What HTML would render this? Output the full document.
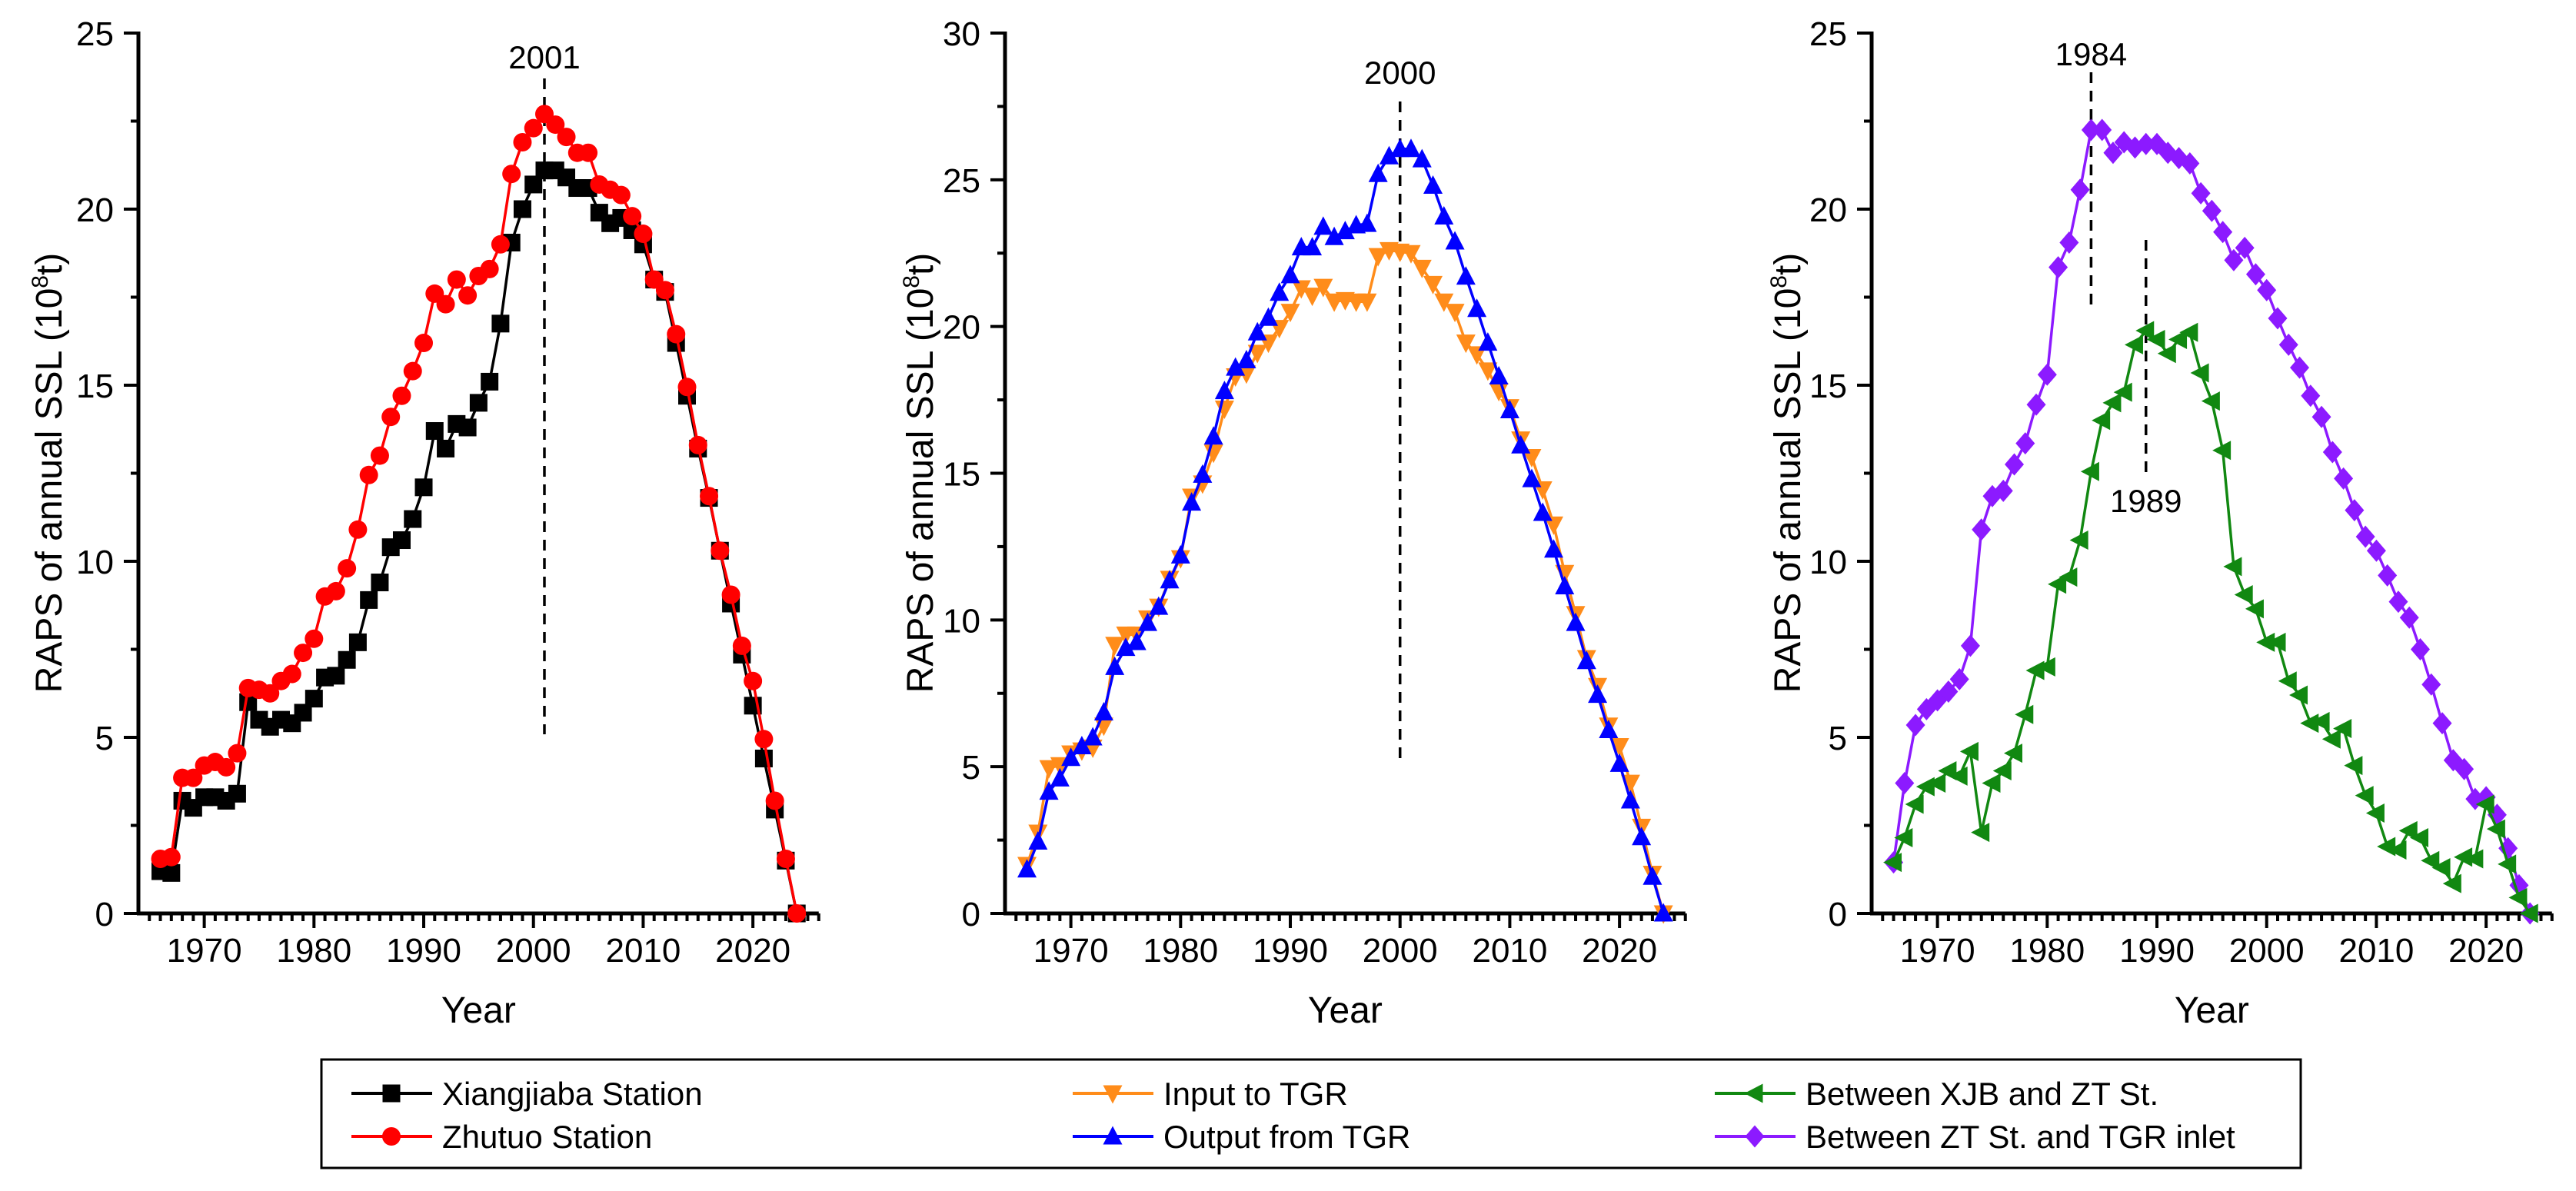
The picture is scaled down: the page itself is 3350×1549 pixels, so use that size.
<!DOCTYPE html>
<html><head><meta charset="utf-8">
<style>
html,body{margin:0;padding:0;background:#fff;}
svg{display:block;font-family:"Liberation Sans",Arial,sans-serif;}
</style></head>
<body>
<svg id="chart" width="3350" height="1549" viewBox="0 0 3350 1549" xmlns="http://www.w3.org/2000/svg">
<rect width="3350" height="1549" fill="#fff"/>
<g id="plots"></g>
<g id="legend">
  <rect x="418" y="1378" width="2574" height="141" fill="none" stroke="#000" stroke-width="3"/>
</g>
</svg>
<script>
const years = [];
for (let y = 1966; y <= 2024; y++) years.push(y);
const xiangjiaba = [1.2,1.15,3.2,3.0,3.3,3.3,3.2,3.4,6.0,5.5,5.3,5.5,5.4,5.7,6.1,6.7,6.75,7.2,7.7,8.9,9.4,10.4,10.6,11.2,12.1,13.7,13.2,13.9,13.8,14.5,15.1,16.75,19.05,20.0,20.7,21.1,21.1,20.9,20.6,20.6,19.9,19.6,19.75,19.4,19.0,18.0,17.65,16.2,14.7,13.2,11.8,10.3,8.8,7.35,5.9,4.4,2.95,1.5,0];
const zhutuo = [1.55,1.6,3.85,3.85,4.2,4.3,4.15,4.55,6.4,6.35,6.25,6.6,6.8,7.4,7.8,9.0,9.15,9.8,10.9,12.45,13.0,14.1,14.7,15.4,16.2,17.6,17.3,18.0,17.55,18.1,18.3,19.0,21.0,21.9,22.3,22.7,22.4,22.05,21.6,21.6,20.7,20.55,20.4,19.8,19.3,18.0,17.7,16.45,14.95,13.3,11.85,10.3,9.05,7.6,6.6,4.95,3.2,1.55,0];
const inputTGR = [1.65,2.75,4.95,5.05,5.45,5.55,5.65,6.4,9.15,9.5,9.5,10.05,10.45,11.4,12.1,14.2,14.65,15.7,17.2,18.3,18.4,19.1,19.45,19.95,20.5,21.3,21.05,21.35,20.85,20.9,20.85,20.85,22.4,22.6,22.55,22.5,22.0,21.45,20.85,20.5,19.45,19.05,18.5,17.8,17.25,16.15,15.55,14.45,13.25,11.6,10.2,8.7,7.75,6.4,5.7,4.45,2.95,1.35,0];
const outputTGR = [1.5,2.45,4.15,4.6,5.3,5.7,6.0,6.85,8.4,9.05,9.25,9.9,10.45,11.35,12.2,14.0,14.95,16.25,17.8,18.6,18.85,19.8,20.3,21.15,21.75,22.7,22.7,23.4,23.05,23.25,23.45,23.5,25.2,25.8,26.05,26.05,25.7,24.8,23.75,22.9,21.7,20.6,19.45,18.3,17.15,15.95,14.8,13.65,12.4,11.15,9.9,8.6,7.45,6.25,5.1,3.85,2.6,1.25,0];
const xjbZt = [1.45,2.15,3.1,3.6,3.7,4.05,3.9,4.6,2.3,3.7,4.05,4.55,5.65,6.9,7.0,9.35,9.55,10.6,12.55,14.0,14.5,14.8,16.15,16.55,16.3,15.9,16.3,16.5,15.35,14.55,13.15,9.85,9.05,8.65,7.7,7.7,6.6,6.2,5.4,5.45,4.95,5.25,4.2,3.35,2.85,1.9,1.8,2.35,2.15,1.5,1.3,0.85,1.6,1.55,3.1,2.4,1.4,0.45,0];
const ztTgr = [1.45,3.7,5.35,5.8,6.05,6.3,6.65,7.6,10.9,11.85,12.0,12.75,13.35,14.45,15.3,18.35,19.05,20.55,22.25,22.25,21.6,21.9,21.75,21.85,21.85,21.6,21.45,21.3,20.45,19.95,19.35,18.55,18.9,18.15,17.7,16.9,16.15,15.5,14.7,14.1,13.1,12.35,11.45,10.7,10.3,9.6,8.85,8.4,7.5,6.5,5.4,4.35,4.1,3.25,3.3,2.8,1.85,0.8,0];
const xTicks = [1970,1980,1990,2000,2010,2020];
const yTicks1 = [0,5,10,15,20,25];
const yTicks2 = [0,5,10,15,20,25,30];
const yTicks3 = [0,5,10,15,20,25];

const NS = "http://www.w3.org/2000/svg";
function el(tag, attrs, parent, txt){
  const e = document.createElementNS(NS, tag);
  for (const k in attrs) e.setAttribute(k, attrs[k]);
  if (txt !== undefined) e.textContent = txt;
  parent.appendChild(e);
  return e;
}
function marker(g, shape, cx, cy, color){
  const s = 11.5;
  let m;
  if (shape === 'square') m = el('rect', {x:cx-s, y:cy-s, width:2*s, height:2*s, fill:color}, g);
  else if (shape === 'circle') m = el('circle', {cx:cx, cy:cy, r:s+0.5, fill:color}, g);
  else if (shape === 'up') m = el('polygon', {points:`${cx},${cy-s-2} ${cx+s+1},${cy+s-1} ${cx-s-1},${cy+s-1}`, fill:color}, g);
  else if (shape === 'down') m = el('polygon', {points:`${cx},${cy+s+2} ${cx+s+1},${cy-s+1} ${cx-s-1},${cy-s+1}`, fill:color}, g);
  else if (shape === 'left') m = el('polygon', {points:`${cx-s-2},${cy} ${cx+s-1},${cy-s-1} ${cx+s-1},${cy+s+1}`, fill:color}, g);
  else m = el('polygon', {points:`${cx},${cy-s-3} ${cx+s+1},${cy} ${cx},${cy+s+3} ${cx-s-1},${cy}`, fill:color}, g);
  return m;
}

const plots = document.getElementById('plots');
const panels = [
  {x0:180, ymax:25, yTicks:yTicks1, ylabX:63, series:[
    {name:'xiangjiaba', vals:xiangjiaba, color:'#000000', shape:'square'},
    {name:'zhutuo', vals:zhutuo, color:'#ff0000', shape:'circle'}],
   ann:[{year:2001, y1:102, y2:955, label:'2001', ly:74}]},
  {x0:1307, ymax:30, yTicks:yTicks2, ylabX:1196, series:[
    {name:'input-to-tgr', vals:inputTGR, color:'#ff8c1a', shape:'down'},
    {name:'output-from-tgr', vals:outputTGR, color:'#0000ff', shape:'up'}],
   ann:[{year:2000, y1:132, y2:987, label:'2000', ly:94}]},
  {x0:2434, ymax:25, yTicks:yTicks3, ylabX:2324, series:[
    {name:'between-zt-and-tgr-inlet', vals:ztTgr, color:'#8c1aff', shape:'diamond'},
    {name:'between-xjb-and-zt', vals:xjbZt, color:'#118811', shape:'left'}],
   ann:[{year:1984, y1:94, y2:400, label:'1984', ly:70},{year:1989, y1:312, y2:615, label:'1989', ly:651}]}
];
const yTop = 43, yBot = 1188, pxPerYear = 14.27;

panels.forEach((p, pi) => {
  const g = el('g', {}, plots);
  
  
  const xs = yr => p.x0 + (yr - 1964) * pxPerYear;
  const ys = v => yBot - v / p.ymax * (yBot - yTop);
  const xEnd = xs(2026);
  // axes
  const ax = el('g', {}, g);
  
  
  el('line', {x1:p.x0, y1:yTop-2, x2:p.x0, y2:yBot+2, stroke:'#000', 'stroke-width':5}, ax);
  el('line', {x1:p.x0-2, y1:yBot, x2:xEnd, y2:yBot, stroke:'#000', 'stroke-width':5}, ax);
  // x ticks
  for (let yr = 1965; yr <= 2026; yr++) {
    const major = yr % 10 === 0;
    el('line', {x1:xs(yr), y1:yBot, x2:xs(yr), y2:yBot + (major ? 19 : 10), stroke:'#000', 'stroke-width':4}, ax);
  }
  xTicks.forEach(t => {
    const tl = el('text', {x:xs(t), y:yBot+63, 'font-size':44, 'text-anchor':'middle', fill:'#000'}, ax, String(t));
    
    
  });
  // y ticks
  for (let v = 0; v <= p.ymax + 0.01; v += 2.5) {
    const major = Math.abs(v % 5) < 0.01;
    el('line', {x1:p.x0 - (major ? 19 : 10), y1:ys(v), x2:p.x0, y2:ys(v), stroke:'#000', 'stroke-width':4}, ax);
  }
  p.yTicks.forEach(t => {
    const tl = el('text', {x:p.x0-32, y:ys(t)+16, 'font-size':44, 'text-anchor':'end', fill:'#000'}, ax, String(t));
    
    
  });
  const xt = el('text', {x:(p.x0 + xEnd)/2, y:1330, 'font-size':48, 'text-anchor':'middle', fill:'#000'}, g, 'Year');
  
  
  const yt = el('text', {x:0, y:0, 'font-size':48, 'text-anchor':'middle', fill:'#000', transform:`translate(${p.ylabX+17},615) rotate(-90)`}, g);
  
  
  yt.appendChild(document.createTextNode('RAPS of annual SSL (10'));
  const sup = el('tspan', {'font-size':30, dy:-18}, yt, '8');
  const rest = el('tspan', {dy:18}, yt, 't)');
  // annotations
  p.ann.forEach(a => {
    const dl = el('line', {x1:xs(a.year), y1:a.y1, x2:xs(a.year), y2:a.y2, stroke:'#000', 'stroke-width':3.5, 'stroke-dasharray':'14,10'}, g);
    
    
    const at = el('text', {x:xs(a.year), y:a.ly+15, 'font-size':42, 'text-anchor':'middle', fill:'#000'}, g, a.label);
    
    
  });
  // series
  p.series.forEach(s => {
    const sg = el('g', {}, g);
    
    
    const pts = s.vals.map((v, i) => xs(years[i]) + ',' + ys(v)).join(' ');
    el('polyline', {points:pts, fill:'none', stroke:s.color, 'stroke-width':3.5, 'stroke-linejoin':'round'}, sg);
    s.vals.forEach((v, i) => {
      const m = marker(sg, s.shape, xs(years[i]), ys(v), s.color);
      
      
    });
  });
});

// legend
const legend = document.getElementById('legend');
const entries = [
  {label:'Xiangjiaba Station', color:'#000000', shape:'square', x:457, y:1422},
  {label:'Zhutuo Station', color:'#ff0000', shape:'circle', x:457, y:1478},
  {label:'Input to TGR', color:'#ff8c1a', shape:'down', x:1395, y:1422},
  {label:'Output from TGR', color:'#0000ff', shape:'up', x:1395, y:1478},
  {label:'Between XJB and ZT St.', color:'#118811', shape:'left', x:2230, y:1422},
  {label:'Between ZT St. and TGR inlet', color:'#8c1aff', shape:'diamond', x:2230, y:1478}
];
entries.forEach(e => {
  const g = el('g', {}, legend);
  
  
  el('line', {x1:e.x, y1:e.y, x2:e.x+105, y2:e.y, stroke:e.color, 'stroke-width':4}, g);
  marker(g, e.shape, e.x+52, e.y, e.color);
  el('text', {x:e.x+118, y:e.y+15, 'font-size':42, fill:'#000'}, g, e.label);
});
</script>
</body></html>
